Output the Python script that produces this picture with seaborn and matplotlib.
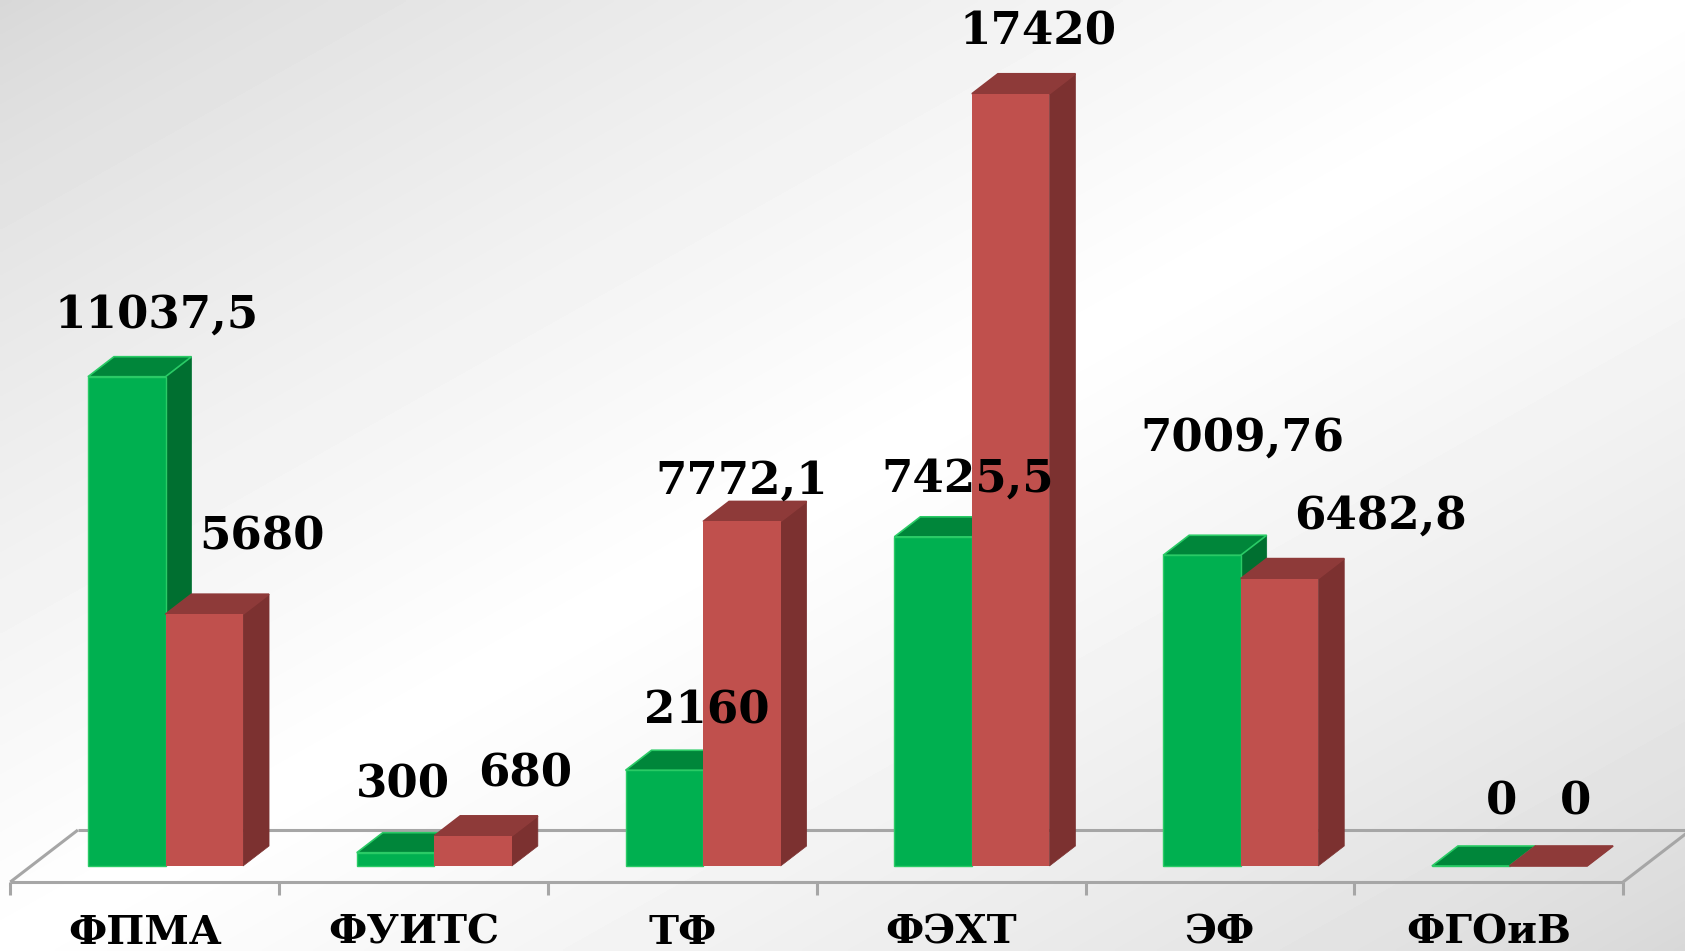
import numpy as np
import pandas as pd
import matplotlib.pyplot as plt
import seaborn as sns
from matplotlib.patches import Polygon

# data
faculties = ['ФПМА', 'ФУИТС', 'ТФ', 'ФЭХТ', 'ЭФ', 'ФГОиВ']
series_names = ['Ряд 1', 'Ряд 2']
green_vals = [11037.5, 300, 2160, 7425.5, 7009.76, 0]
red_vals = [5680, 680, 7772.1, 17420, 6482.8, 0]

df = pd.DataFrame({
    'faculty': faculties * 2,
    'series': [series_names[0]] * len(faculties) + [series_names[1]] * len(faculties),
    'value': green_vals + red_vals,
})

# colours: front, top, side
shades = [('#00B050', '#00863A', '#006F30'),
          ('#C0504D', '#8E3A39', '#7C3130')]

# label offsets in pixels (dx, up) from the front-top centre of each bar
green_offsets = [(30, 62), (7, 68), (42, 59), (35, 58), (40, 117), (31, 64)]
red_offsets = [(58, 77), (52, 62), (0, 40), (27, 62), (101, 63), (27, 64)]

W, H = 1685, 951
px_per_cat = 268.8
px_per_val = 0.04433
base_py = 866
center_px = 165.5

sns.set_style('white')
plt.rcParams['font.family'] = ['DejaVu Serif']

fig = plt.figure(figsize=(W / 100, H / 100), dpi=100)

# background gradient (grey corners, white diagonal band)
bg = fig.add_axes([0, 0, 1, 1])
bg.axis('off')
xx, yy = np.meshgrid(np.linspace(0, 1, 500), np.linspace(0, 1, 300))
t = (xx + yy) / 2
shade = 0.845 + 0.155 * (1 - np.abs(2 * t - 1)) ** 0.8
bg.imshow(shade, cmap='gray', vmin=0, vmax=1, aspect='auto', interpolation='bilinear')

ax = fig.add_axes([0, 0, 1, 1], zorder=2)
ax.patch.set_alpha(0)
sns.barplot(data=df, x='faculty', y='value', hue='series',
            palette=[s[0] for s in shades], width=0.577, saturation=1,
            legend=False, linewidth=0, ax=ax)

ax.set_xlim(-center_px / px_per_cat, (W - center_px) / px_per_cat)
ax.set_ylim(-(H - base_py) / px_per_val, base_py / px_per_val)
ax.axis('off')

# depth vector of one bar (data units)
dx = 26 / px_per_cat
dy = 20 / px_per_val

n = len(faculties)
for s, (cont, (c_front, c_top, c_side)) in enumerate(zip(ax.containers, shades)):
    offs = green_offsets if s == 0 else red_offsets
    for k, p in enumerate(cont.patches):
        x0, w, h = p.get_x(), p.get_width(), p.get_height()
        z = 3 + k * 0.1 + s * 0.05
        p.set_zorder(z + 0.02)
        edge = '#2ACB66' if s == 0 else c_top
        top = Polygon([(x0, h), (x0 + w, h), (x0 + w + dx, h + dy), (x0 + dx, h + dy)],
                      closed=True, facecolor=c_top, edgecolor=edge, linewidth=1.2, zorder=z + 0.01)
        side = Polygon([(x0 + w, 0), (x0 + w + dx, dy), (x0 + w + dx, h + dy), (x0 + w, h)],
                       closed=True, facecolor=c_side, edgecolor=c_side, linewidth=0.5, zorder=z)
        ax.add_patch(side)
        ax.add_patch(top)
        if s == 0:
            p.set_edgecolor('#2ACB66')
            p.set_linewidth(1.0)
        label = f'{h:g}'.replace('.', ',')
        ax.annotate(label, (x0 + w / 2, h), xytext=offs[k], textcoords='offset pixels',
                    ha='center', va='center', fontsize=32.5, fontweight='bold',
                    color='black', zorder=10)

# floor outline
f_d, b_d = -0.8, 1.8
line_kw = dict(color='#A6A6A6', linewidth=2.2, solid_capstyle='butt')
FL = (-0.5 + f_d * dx, f_d * dy)
FR = (n - 0.5 + f_d * dx, f_d * dy)
BL = (-0.5 + b_d * dx, b_d * dy)
BR = (n - 0.5 + b_d * dx, b_d * dy)
for a, b in [(BL, BR), (BL, FL), (FR, BR)]:
    ax.plot([a[0], b[0]], [a[1], b[1]], zorder=1.5, **line_kw)
ax.plot([FL[0], FR[0]], [FL[1], FR[1]], zorder=6, **line_kw)

tick_len = 13 / px_per_val
for k in range(n + 1):
    xt = k - 0.5 + f_d * dx
    ax.plot([xt, xt], [f_d * dy, f_d * dy - tick_len], zorder=6, **line_kw)

label_y = -(933 - base_py) / px_per_val
for k, name in enumerate(faculties):
    ax.text(k + f_d * dx, label_y, name, ha='center', va='center',
            fontsize=29, fontweight='bold', color='black')

fig.savefig('out.png', dpi=100)
